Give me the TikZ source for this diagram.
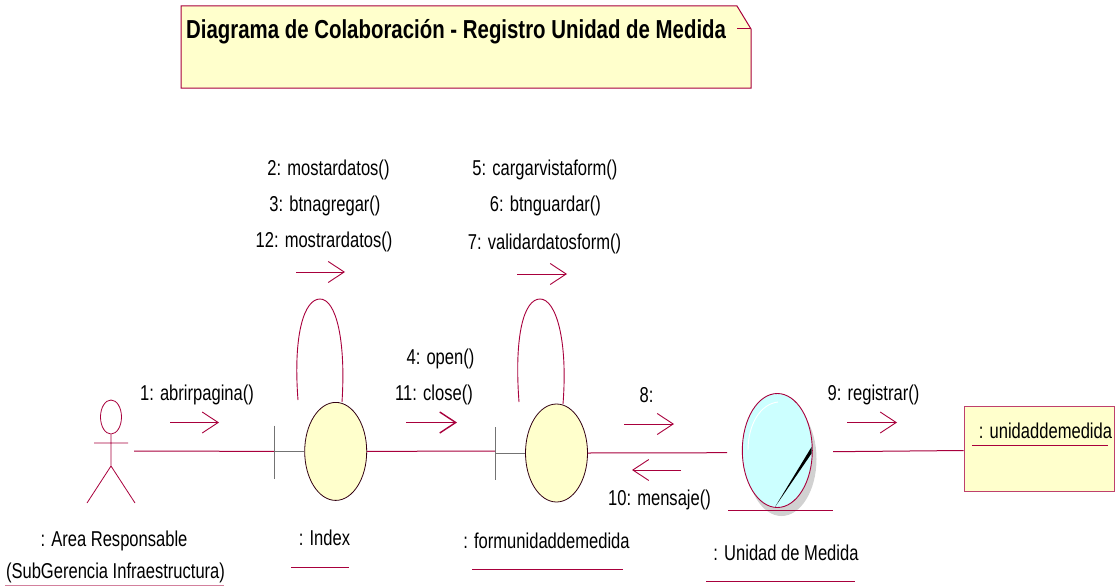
\documentclass[tikz,border=0pt]{standalone}
\usepackage{fontspec}
\setmainfont{Liberation Sans}
\newfontfamily\lblfont[FakeStretch=0.77]{Liberation Sans}
\newfontfamily\ttlfont[FakeStretch=0.785]{Liberation Sans Bold}
\usetikzlibrary{shapes.geometric,arrows.meta}
\definecolor{umlred}{HTML}{A8003C}
\definecolor{umlyellow}{HTML}{FFFFCC}
\definecolor{umlcyan}{HTML}{CCFFFF}
\tikzset{
  x=1pt,y=-1pt,
  wire/.style={draw=umlred,line width=1pt},
  thinwire/.style={draw=umlred,line width=0.8pt},
  barwire/.style={draw=black!55,line width=1pt},
  msg/.style={draw=umlred,line width=0.9pt,-{Straight Barb[length=16pt,width=21pt,line width=0.9pt]}},
  boldmsg/.style={draw=umlred,line width=1.4pt,-{Straight Barb[length=16pt,width=21pt,line width=1.4pt]}},
  lbl/.style={inner sep=0pt,text=black,yshift=-1pt,font=\lblfont\fontsize{21.5}{23}\selectfont},
  ctl/.style={shape=ellipse,draw=black!70!umlred,fill=umlyellow,line width=0.8pt,inner sep=0pt,minimum width=62pt,minimum height=98pt},
  ent/.style={shape=ellipse,draw=umlred,fill=umlcyan,line width=0.9pt,inner sep=0pt,minimum width=70pt,minimum height=114pt}
}
\begin{document}
\begin{tikzpicture}
\useasboundingbox (0,0) rectangle (1118,586);
% note
\coordinate (nA) at (181,6); \coordinate (nB) at (737,6); \coordinate (nC) at (751,29);
\coordinate (nD) at (751,88); \coordinate (nE) at (181,88); \coordinate (nF) at (737,29);
\fill[umlyellow] (nA)--(nB)--(nC)--(nD)--(nE)--cycle;
\draw[thinwire,line width=1pt] (nA)--(nB)--(nC)--(nD)--(nE)--cycle;
\draw[thinwire,line width=1pt] (nF)--(nC);
\node[anchor=west,inner sep=0pt,font=\ttlfont\fontsize{26}{28}\selectfont] (title) at (186,32) {Diagrama de Colaboración - Registro Unidad de Medida};
% actor
\node[shape=ellipse,draw=umlred,line width=0.8pt,inner sep=0pt,minimum width=21pt,minimum height=34pt] (head) at (111,417) {};
\coordinate (hip) at (111,466); \coordinate (armL) at (94,443); \coordinate (armR) at (128,443);
\coordinate (legL) at (87,503); \coordinate (legR) at (135,503); \coordinate (actorEnd) at (134,451);
\draw[thinwire] (head.south)--(hip) (armL)--(armR) (legL)--(hip)--(legR);
% index
\node[ctl] (idx) at (335.7,451.4) {};
\coordinate (idxBarT) at (274,425.5); \coordinate (idxBarB) at (274,479); \coordinate (idxBarM) at (274,451.4);
\draw[barwire] (idxBarT)--(idxBarB) (idxBarM)--(idx.west);
% form
\node[ctl] (frm) at (556.5,453) {};
\coordinate (frmBarT) at (495,427); \coordinate (frmBarB) at (495,480); \coordinate (frmBarM) at (495,453);
\coordinate (frmLineEnd) at (495,451);
\draw[barwire] (frmBarT)--(frmBarB) (frmBarM)--(frm.west);
% entity
\node[shape=ellipse,fill=black!18,inner sep=0pt,minimum width=70pt,minimum height=114pt] (entShadow) at (781.5,459) {};
\node[ent] (entity) at (777.3,450.5) {};
\coordinate (wA) at (775,507); \coordinate (wB) at (811.5,447); \coordinate (wC) at (811.5,453.5);
\fill[black] (wA)--(wB)--(wC)--cycle;
\coordinate (hlA) at (748,450); \coordinate (hlB) at (778,402);
\draw[white,line width=0.9pt] (hlA) .. controls (748,425) and (760,404) .. (hlB);
\coordinate (entUL) at (728,510); \coordinate (entUR) at (833,510);
\draw[wire] (entUL)--(entUR);
\coordinate (entW) at (727,452.7); \coordinate (entE) at (833,451.7);
% box
\node[draw=umlred!75,fill=umlyellow,line width=1pt,inner sep=0pt,minimum width=150pt,minimum height=85pt] (box) at (1039,448.5) {};
% links
\draw[wire] (actorEnd)--(idxBarM);
\draw[wire] (idx.east)--(frmLineEnd);
\draw[wire] (frm.east)--(entW);
\draw[wire] (entE)--([yshift=-2pt]box.west);
% self loops
\coordinate (l1a) at (298,400); \coordinate (l1t) at (320,299); \coordinate (l1b) at (342,402);
\draw[thinwire,line width=0.9pt] (l1a) .. controls (293,335) and (304,299) .. (l1t) .. controls (336,299) and (346,340) .. (l1b);
\coordinate (l2a) at (519,402); \coordinate (l2t) at (540,299); \coordinate (l2b) at (563,404);
\draw[thinwire,line width=0.9pt] (l2a) .. controls (514,335) and (524,299) .. (l2t) .. controls (556,299) and (568,340) .. (l2b);
% messages
\foreach \n/\xa/\ya/\xb/\yb in {m1/170/422.5/219/422.5,m2/296/272/345/272,m3/517/274/567/274,m5/624/424/674/424,m6/681/470/632/470,m7/847/422.5/897/422.5}{
  \coordinate (\n s) at (\xa,\ya); \coordinate (\n e) at (\xb,\yb);
  \draw[msg] (\n s)--(\n e);
}
\coordinate (m4s) at (406,422.5); \coordinate (m4e) at (457,422.5);
\draw[boldmsg] (m4s)--(m4e);
% labels
\node[lbl] (t1) at (197,394) {1: abrirpagina()};
\node[lbl] (t2) at (328.5,169) {2: mostardatos()};
\node[lbl] (t3) at (325,205) {3: btnagregar()};
\node[lbl] (t12) at (324,241) {12: mostrardatos()};
\node[lbl] (t5) at (545,169) {5: cargarvistaform()};
\node[lbl] (t6) at (545.5,205) {6: btnguardar()};
\node[lbl] (t7) at (544.5,243) {7: validardatosform()};
\node[lbl] (t4) at (440.5,358) {4: open()};
\node[lbl] (t11) at (434,394) {11: close()};
\node[lbl] (t8) at (646.5,394) {8:};
\node[lbl] (t9) at (873.5,394) {9: registrar()};
\node[lbl] (t10) at (659.5,499) {10: mensaje()};
\node[lbl] (a1) at (114,540) {: Area Responsable};
\node[lbl] (a2) at (115.5,572) {(SubGerencia Infraestructura)};
\node[lbl] (ix) at (324.5,537) {: Index};
\node[lbl] (fm) at (546.5,540) {: formunidaddemedida};
\node[lbl] (um) at (786,552) {: Unidad de Medida};
\node[lbl] (ud) at (1045.5,430) {: unidaddemedida};
% underlines
\foreach \n/\xa/\xb/\yy in {u2/291/349/567,u3/472/623/569,u4/706/855/581,u5/972/1108/445}{
  \coordinate (\n a) at (\xa,\yy); \coordinate (\n b) at (\xb,\yy);
  \draw[wire] (\n a)--(\n b);
}
\coordinate (u1a) at (5,585); \coordinate (u1b) at (224,585);
\draw[wire,draw=umlred!50] (u1a)--(u1b);
\end{tikzpicture}
\end{document}
